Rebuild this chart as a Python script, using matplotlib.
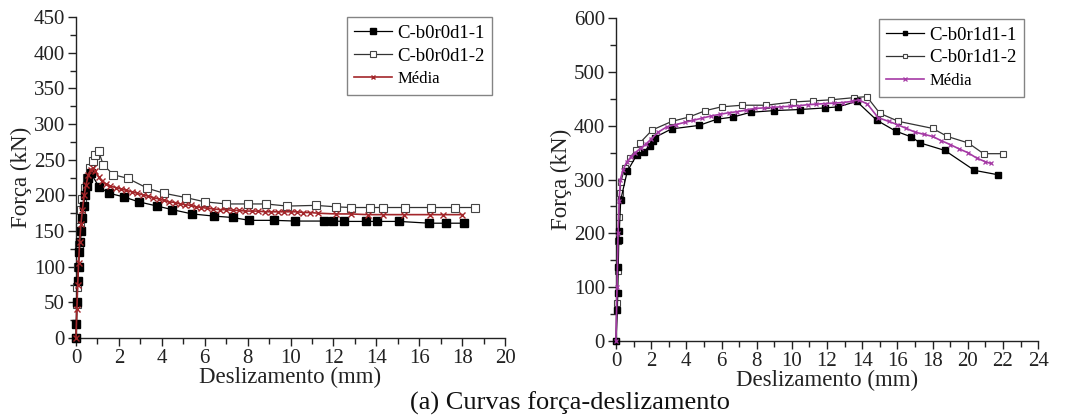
import matplotlib
matplotlib.use("Agg")
import matplotlib.pyplot as plt
from matplotlib.ticker import MultipleLocator

plt.rcParams['font.family'] = ['Liberation Serif', 'DejaVu Serif']

# ---------------- Left panel data ----------------
left_s1_x = [0, 0.02, 0.05, 0.08, 0.12, 0.16, 0.2, 0.25, 0.3, 0.35, 0.42, 0.5, 0.58, 0.68,
             1.07, 1.54, 2.22, 2.92, 3.79, 4.49, 5.41, 6.42, 7.30, 8.08, 9.23, 10.23,
             11.56, 12.0, 12.51, 13.5, 14.03, 15.06, 16.46, 17.23, 18.10]
left_s1_y = [0, 20, 50, 80, 100, 120, 135, 150, 168, 185, 200, 213, 225, 232,
             212, 203, 198, 191, 185, 180, 174, 171, 169, 165, 165, 164,
             164, 164, 163.5, 163.5, 163.5, 163.5, 161, 161, 161]

left_s2_x = [0, 0.03, 0.06, 0.1, 0.14, 0.18, 0.24, 0.3, 0.4, 0.52, 0.65, 0.78, 0.9, 1.05,
             1.27, 1.74, 2.41, 3.33, 4.10, 5.11, 6.0, 6.99, 8.0, 8.86, 9.84, 11.17,
             12.1, 12.8, 13.69, 14.3, 15.35, 16.55, 17.68, 18.62]
left_s2_y = [0, 48, 72, 100, 130, 155, 180, 195, 210, 225, 238, 248, 256, 262,
             243, 229, 224, 210, 203, 197, 191, 188, 188, 188, 185, 186,
             184, 183, 183, 183, 183, 183, 183, 183]

left_avg_x = [0, 0.04, 0.08, 0.12, 0.17, 0.23, 0.3, 0.38, 0.47, 0.57, 0.68, 0.78,
              0.9, 1.05, 1.2, 1.4, 1.6, 1.85, 2.1, 2.35, 2.6, 2.85, 3.1, 3.35, 3.6,
              3.85, 4.1, 4.35, 4.6, 4.85, 5.1, 5.35, 5.6, 5.85, 6.1, 6.4, 6.7, 7.0,
              7.3, 7.6, 7.9, 8.2, 8.5, 8.8, 9.1, 9.4, 9.7, 10.0, 10.3, 10.6, 10.9,
              11.3, 12.1, 12.8, 13.6, 14.3, 15.3, 16.5, 17.1, 18.0]
left_avg_y = [0, 40, 75, 105, 135, 160, 180, 200, 215, 228, 236, 238,
              234, 226, 220, 216, 213, 211, 209, 207, 205, 203, 201, 199, 197,
              195, 193, 191, 190, 188, 187, 186, 184, 183, 182, 181, 180, 180,
              179, 179, 178, 178, 178, 177, 177, 177, 177, 177, 177, 176, 176,
              175, 174, 174, 173, 173, 173, 173, 173, 173]

# ---------------- Right panel data ----------------
right_s1_x = [0, 0.08, 0.1, 0.13, 0.16, 0.19, 0.27, 0.64, 1.17, 1.57, 1.93, 2.08, 2.2,
              3.16, 4.72, 5.74, 6.65, 7.67, 8.99, 10.45, 11.9, 12.63, 13.69,
              14.83, 15.9, 16.8, 17.29, 18.7, 20.38, 21.7]
right_s1_y = [0, 58, 89, 138, 188, 205, 262, 315, 345, 351, 363, 371, 378,
              394, 400.5, 412, 416, 425, 428, 430, 433, 435, 445,
              410, 390, 379, 368, 354, 317, 309]

right_s2_x = [0, 0.05, 0.09, 0.13, 0.17, 0.23, 0.28, 0.49, 0.78, 1.14, 1.36, 2.06,
              3.18, 4.15, 5.09, 6.0, 7.18, 8.54, 10.06, 11.2, 12.2, 13.52, 14.26,
              15.0, 16.06, 18.0, 18.84, 20.02, 20.9, 22.0]
right_s2_y = [0, 70, 130, 185, 230, 275, 296, 321, 340, 355, 368, 392,
              408, 416, 428, 435, 438, 438, 444, 446, 448, 452, 454,
              423, 408, 395, 380, 368, 348, 348]

right_avg_x = [0, 0.06, 0.12, 0.18, 0.25, 0.4, 0.6, 0.85, 1.1, 1.4, 1.7, 2.0, 2.4,
               2.9, 3.4, 3.9, 4.4, 4.9, 5.4, 5.9, 6.4, 6.9, 7.4, 7.9, 8.4, 8.9,
               9.4, 9.9, 10.4, 10.9, 11.4, 11.9, 12.4, 12.9, 13.4, 13.8, 14.3,
               14.9, 15.5, 16.0, 16.5, 17.0, 17.5, 18.0, 18.5, 19.0, 19.5, 20.0,
               20.5, 21.0, 21.3]
right_avg_y = [0, 100, 200, 260, 300, 318, 332, 342, 350, 358, 366, 375, 388,
               398, 402, 406, 410, 414, 418, 421, 424, 426, 429, 432, 433, 434,
               435, 436, 437, 439, 440, 441, 442, 443, 445, 448, 440,
               415, 408, 402, 395, 388, 384, 380, 372, 365, 357, 350,
               340, 333, 330]

left_labels = ['C-b0r0d1-1', 'C-b0r0d1-2', 'Média']
right_labels = ['C-b0r1d1-1', 'C-b0r1d1-2', 'Média']

fig = plt.figure(figsize=(10.78, 4.18), dpi=100)
ax1 = fig.add_axes([0.0705, 0.1914, 0.398, 0.7676])
ax2 = fig.add_axes([0.5714, 0.184, 0.3916, 0.773])

def style(ax, xmax, ymax, xmaj, ymaj):
    for s in ['top', 'right']:
        ax.spines[s].set_visible(False)
    for s in ['left', 'bottom']:
        ax.spines[s].set_linewidth(1.0)
        ax.spines[s].set_color('#222222')
    ax.set_xlim(0, xmax)
    ax.set_ylim(0, ymax)
    ax.xaxis.set_major_locator(MultipleLocator(xmaj))
    ax.xaxis.set_minor_locator(MultipleLocator(xmaj / 2))
    ax.yaxis.set_major_locator(MultipleLocator(ymaj))
    ax.yaxis.set_minor_locator(MultipleLocator(ymaj / 2))
    ax.tick_params(which='major', direction='out', length=6, width=1.0,
                   labelsize=15, colors='#222222', pad=2)
    ax.tick_params(which='minor', direction='out', length=4, width=1.0, colors='#222222')
    ax.set_xlabel('Deslizamento (mm)', fontsize=16.5, labelpad=-1, color='#222222')
    ax.set_ylabel('Força (kN)', fontsize=16.5, labelpad=1, color='#222222')

style(ax1, 20, 450, 2, 50)
style(ax2, 24, 600, 2, 100)

# Left panel
ax1.plot(left_s1_x, left_s1_y, color='black', lw=0.9, marker='s', ms=5.5,
         mfc='black', mec='black', label=left_labels[0], clip_on=False, zorder=3)
ax1.plot(left_s2_x, left_s2_y, color='#333333', lw=0.9, marker='s', ms=5.5,
         mfc='white', mec='#444444', mew=0.8, label=left_labels[1], clip_on=False, zorder=2)
ax1.plot(left_avg_x, left_avg_y, color='#a3262a', lw=1.2, marker='x', ms=5,
         mew=1.0, label=left_labels[2], clip_on=False, zorder=4)

# Right panel
ax2.plot(right_s1_x, right_s1_y, color='black', lw=0.9, marker='s', ms=5,
         mfc='black', mec='black', label=right_labels[0], clip_on=False, zorder=3)
ax2.plot(right_s2_x, right_s2_y, color='#333333', lw=0.9, marker='s', ms=5,
         mfc='white', mec='#444444', mew=0.8, label=right_labels[1], clip_on=False, zorder=2)
ax2.plot(right_avg_x, right_avg_y, color='#a53aa5', lw=1.2, marker='x', ms=3.5,
         mew=0.9, label=right_labels[2], clip_on=False, zorder=4)

for ax, anchor in [(ax1, (0.97, 1.0)), (ax2, (0.967, 0.997))]:
    leg = ax.legend(loc='upper right', bbox_to_anchor=anchor, fontsize=13.5,
                    frameon=True, fancybox=False, edgecolor='#666666',
                    handlelength=2.0, handletextpad=0.3, borderpad=0.4,
                    labelspacing=0.3, borderaxespad=0, markerscale=0.7)
    leg.get_frame().set_linewidth(1.0)
    leg.texts[2].set_fontsize(12)

fig.text(0.529, 0.035, '(a) Curvas força-deslizamento', ha='center', va='center',
         fontsize=19, color='#111111')

fig.savefig('out.png', dpi=100)
